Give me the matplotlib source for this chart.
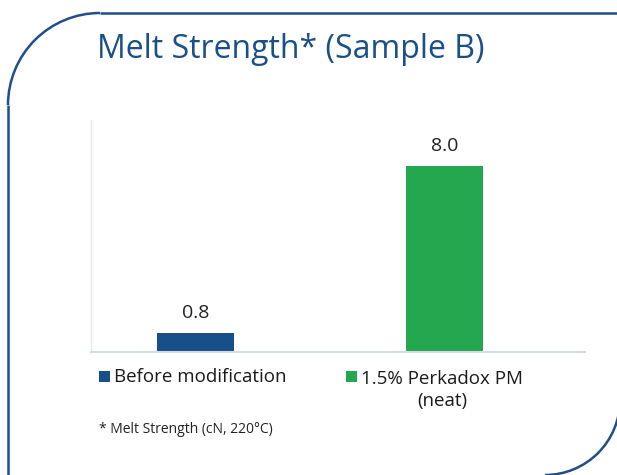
import matplotlib.pyplot as plt
from matplotlib.patches import Arc, Rectangle

series = ["Before modification", "1.5% Perkadox PM\n(neat)"]
values = [0.8, 8.0]
colors = ["#174f88", "#23a84f"]
title = "Melt Strength* (Sample B)"
footnote = "* Melt Strength (cN, 220°C)"

plt.rcParams['font.family'] = ['Open Sans', 'DejaVu Sans']

fig = plt.figure(figsize=(6.17, 4.75), dpi=100)

# frame around the slide, in pixel coordinates (y goes down)
bg = fig.add_axes([0, 0, 1, 1], zorder=-1)
bg.set_xlim(0, 617)
bg.set_ylim(475, 0)
bg.axis("off")
frame_col = "#1f4f8a"
bg.plot([100, 617], [13, 13], color=frame_col, lw=1.8, solid_capstyle="butt")
bg.plot([8, 8], [105, 475], color=frame_col, lw=1.8, solid_capstyle="butt")
bg.add_patch(Arc((100, 105), 184, 184, theta1=180, theta2=270, color=frame_col, lw=1.8))
bg.add_patch(Arc((545, 400), 150, 150, theta1=0, theta2=90, color=frame_col, lw=1.8))

ax = fig.add_axes([91 / 617, 123 / 475, 494 / 617, 232 / 475])
for i, (name, v, c) in enumerate(zip(series, values, colors)):
    b = ax.bar(i, v, width=0.31, color=c, label=name)
    ax.bar_label(b, fmt="%.1f", padding=8, fontsize=14, color="#222222")

ax.set_xlim(-0.42, 1.564)
ax.set_ylim(0, 10)
ax.set_xticks([])
ax.set_yticks([])
for s in ["top", "right"]:
    ax.spines[s].set_visible(False)
ax.spines["left"].set_color("#e3e8ee")
ax.spines["bottom"].set_color("#d3dbe6")
ax.spines["left"].set_linewidth(1.0)
ax.spines["bottom"].set_linewidth(1.5)

# legend drawn by hand so the wrapped label stays centred under its first line
leg_x = [99, 346]
line_h = 24
for x0, name, c in zip(leg_x, series, colors):
    bg.add_patch(Rectangle((x0, 371), 11, 11, color=c, lw=0))
    # baseline alignment uses the last line, so push down by the extra lines
    y = 382 + line_h * name.count("\n")
    bg.text(x0 + 15, y, name, fontsize=13.5, color="#1a1a1a", ha="left",
            va="baseline", multialignment="center", linespacing=1.3)

fig.text(97 / 617, 1 - 58 / 475, title, fontsize=23, color="#1a5089", va="baseline")
fig.text(99 / 617, 1 - 433 / 475, footnote, fontsize=10, color="#222222", va="baseline")

fig.savefig("out.png", dpi=100)
